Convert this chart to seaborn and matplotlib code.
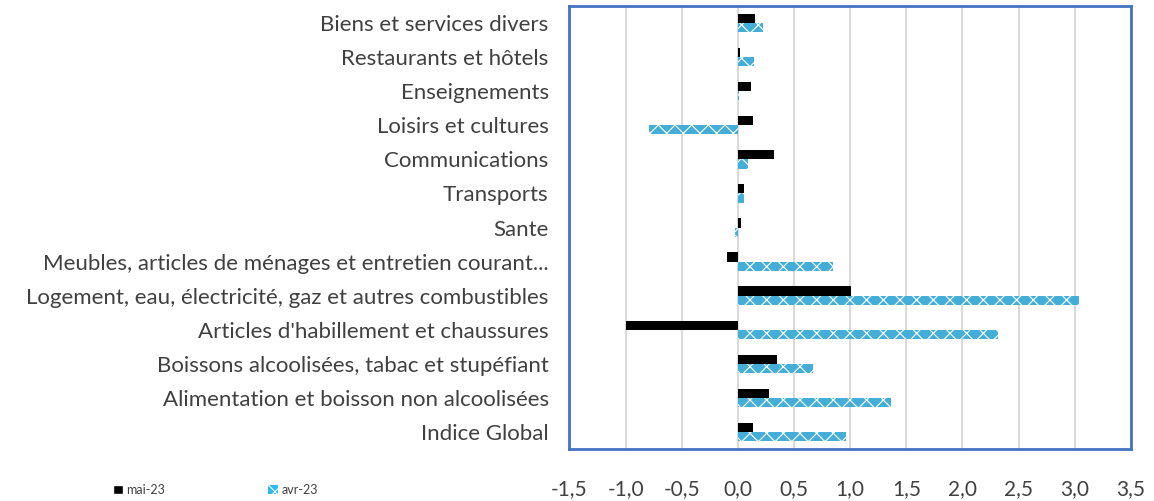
import matplotlib
matplotlib.use("Agg")
import matplotlib.pyplot as plt
import numpy as np
import pandas as pd
import seaborn as sns

categories = [
    "Biens et services divers",
    "Restaurants et hôtels",
    "Enseignements",
    "Loisirs et cultures",
    "Communications",
    "Transports",
    "Sante",
    "Meubles, articles de ménages et entretien courant...",
    "Logement, eau, électricité, gaz et autres combustibles",
    "Articles d'habillement et chaussures",
    "Boissons alcoolisées, tabac et stupéfiant",
    "Alimentation et boisson non alcoolisées",
    "Indice Global",
]
mai_23 = [0.15, 0.02, 0.12, 0.13, 0.32, 0.05, 0.03, -0.10, 1.01, -1.00, 0.35, 0.28, 0.13]
avr_23 = [0.22, 0.14, 0.01, -0.79, 0.09, 0.05, -0.03, 0.85, 3.04, 2.32, 0.67, 1.36, 0.96]
series = ["mai-23", "avr-23"]
xticks = [-1.5, -1.0, -0.5, 0.0, 0.5, 1.0, 1.5, 2.0, 2.5, 3.0, 3.5]

df = pd.DataFrame({
    "cat": categories * 2,
    "val": mai_23 + avr_23,
    "serie": [series[0]] * len(categories) + [series[1]] * len(categories),
})

sns.set_style("white")
plt.rcParams["font.family"] = ["Lato", "DejaVu Sans"]
plt.rcParams["hatch.color"] = "white"
plt.rcParams["hatch.linewidth"] = 0.8

blue = "#2DB9F0"

fig = plt.figure(figsize=(11.54, 5.01), dpi=100)
ax = fig.add_axes([0.4935, 0.1038, 0.4865, 0.8842])

sns.barplot(data=df, x="val", y="cat", hue="serie", hue_order=series,
            order=categories, orient="h", width=0.54, dodge=True,
            palette=["black", blue], legend=False, ax=ax, zorder=3)

for bar in ax.containers[1]:
    bar.set_hatch("xx")
    bar.set_edgecolor("white")
    bar.set_linewidth(0)
for bar in ax.containers[0]:
    bar.set_linewidth(0)

ax.set_xlim(-1.5, 3.5)
ax.set_ylim(len(categories) - 0.5, -0.5)
ax.set_xticks(xticks)
ax.set_xticklabels([f"{t:.1f}".replace(".", ",") for t in xticks])
ax.grid(axis="x", color="#D9D9D9", linewidth=1.5, zorder=0)
ax.set_axisbelow(True)
ax.set_xlabel("")
ax.set_ylabel("")
ax.tick_params(axis="x", length=0, pad=22, labelsize=15, labelcolor="#404040")
ax.tick_params(axis="y", length=0, pad=15, labelsize=16, labelcolor="#404040")
for s in ax.spines.values():
    s.set_color("#4472C4")
    s.set_linewidth(2)

from matplotlib.patches import Patch
handles = [Patch(facecolor="black", label="mai-23"),
           Patch(facecolor=blue, hatch="xx", edgecolor="white", linewidth=0, label="avr-23")]
fig.legend(handles=handles, loc="center left", bbox_to_anchor=(0.088, 0.022), ncol=2,
           frameon=False, fontsize=9, handlelength=0.8, handleheight=0.8,
           handletextpad=0.3, columnspacing=8.2, labelcolor="#404040")

fig.savefig("out.png", dpi=100)
